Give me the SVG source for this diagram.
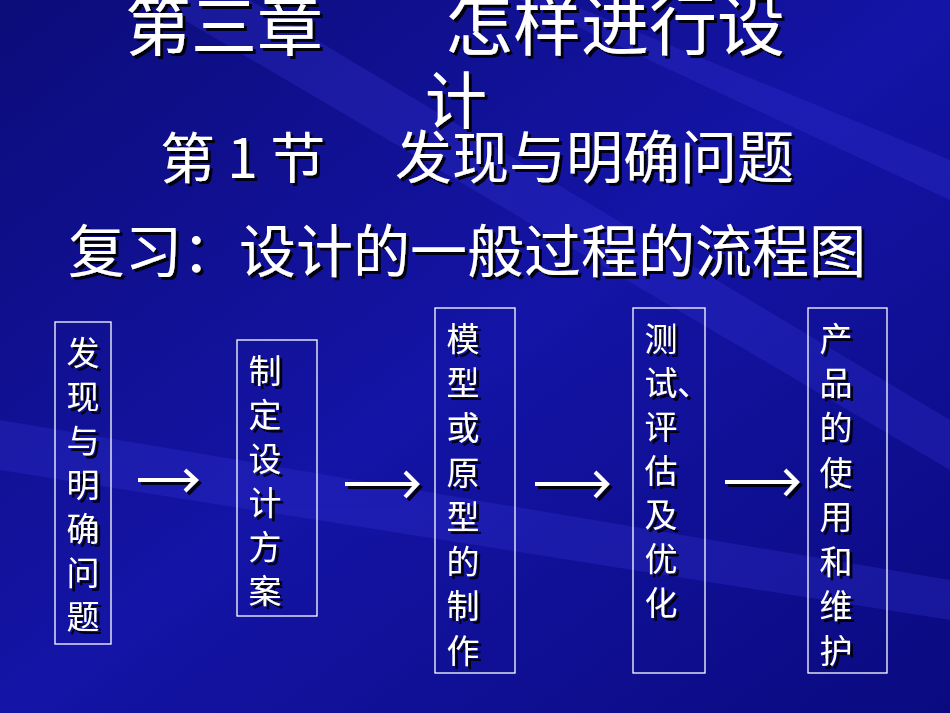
<svg xmlns="http://www.w3.org/2000/svg" width="950" height="713" viewBox="0 0 950 713">
<defs>
<linearGradient id="bg" x1="0" y1="0" x2="1" y2="1">
<stop offset="0" stop-color="#0c0c7a"/><stop offset="0.5" stop-color="#1414a6"/><stop offset="1" stop-color="#0a0a80"/>
</linearGradient>
<filter id="sh" x="-10%" y="-10%" width="130%" height="130%"><feDropShadow dx="3" dy="3" stdDeviation="0.5" flood-color="#000" flood-opacity="0.9"/></filter>
<style>
text{font-family:"Noto Sans CJK SC","Liberation Sans",sans-serif;fill:#fff;filter:url(#sh)}
.v{font-size:33px;text-anchor:middle}
.box{fill:none;stroke:#fff;stroke-width:1.3}
.arr{stroke:#fff;stroke-width:4;fill:none}
</style>
</defs>
<rect width="950" height="713" fill="url(#bg)"/>
<g fill="#3a3ae0" opacity="0.25">
<polygon points="250,0 950,420 950,470 150,0"/>
<polygon points="0,420 950,580 950,620 0,470"/>
<polygon points="560,0 950,160 950,200 520,0"/>
</g>
<g id="titles">
<text x="125" y="50" font-size="66">第三章</text>
<text x="445" y="50" font-size="68">怎样进行设</text>
<text x="425" y="124" font-size="62">计</text>
<text x="160" y="178" font-size="55">第 1 节</text>
<text x="395" y="178" font-size="57">发现与明确问题</text>
<text x="68" y="272" font-size="57">复习：设计的一般过程的流程图</text>
</g>
<g id="n1"><rect class="box" x="55" y="322" width="56" height="322"/>
<text class="v"><tspan x="83" y="365">发</tspan><tspan x="83" y="409">现</tspan><tspan x="83" y="453">与</tspan><tspan x="83" y="497">明</tspan><tspan x="83" y="541">确</tspan><tspan x="83" y="585">问</tspan><tspan x="83" y="629">题</tspan></text></g>
<g id="n2"><rect class="box" x="237" y="340" width="80" height="276"/>
<text class="v"><tspan x="265" y="383">制</tspan><tspan x="265" y="427">定</tspan><tspan x="265" y="471">设</tspan><tspan x="265" y="515">计</tspan><tspan x="265" y="559">方</tspan><tspan x="265" y="603">案</tspan></text></g>
<g id="n3"><rect class="box" x="435" y="308" width="80" height="365"/>
<text class="v"><tspan x="463" y="351">模</tspan><tspan x="463" y="395">型</tspan><tspan x="463" y="440">或</tspan><tspan x="463" y="485">原</tspan><tspan x="463" y="529">型</tspan><tspan x="463" y="574">的</tspan><tspan x="463" y="618">制</tspan><tspan x="463" y="663">作</tspan></text></g>
<g id="n4"><rect class="box" x="633" y="308" width="72" height="365"/>
<text class="v"><tspan x="661" y="351">测</tspan><tspan x="661" y="395">试</tspan><tspan x="661" y="439">评</tspan><tspan x="661" y="483">估</tspan><tspan x="661" y="527">及</tspan><tspan x="661" y="571">优</tspan><tspan x="661" y="615">化</tspan></text>
<text x="677" y="395" font-size="33">、</text></g>
<g id="n5"><rect class="box" x="808" y="308" width="79" height="365"/>
<text class="v"><tspan x="836" y="351">产</tspan><tspan x="836" y="395">品</tspan><tspan x="836" y="440">的</tspan><tspan x="836" y="485">使</tspan><tspan x="836" y="529">用</tspan><tspan x="836" y="574">和</tspan><tspan x="836" y="618">维</tspan><tspan x="836" y="663">护</tspan></text></g>
<g id="connectors" class="arr" filter="url(#sh)">
<path d="M138 480H195M185 470L196 480L185 491"/>
<path d="M345 484H416M405 472L417 484L405 497"/>
<path d="M535 484H606M595 472L607 484L595 497"/>
<path d="M725 482H796M785 470L797 482L785 495"/>
</g>
</svg>
